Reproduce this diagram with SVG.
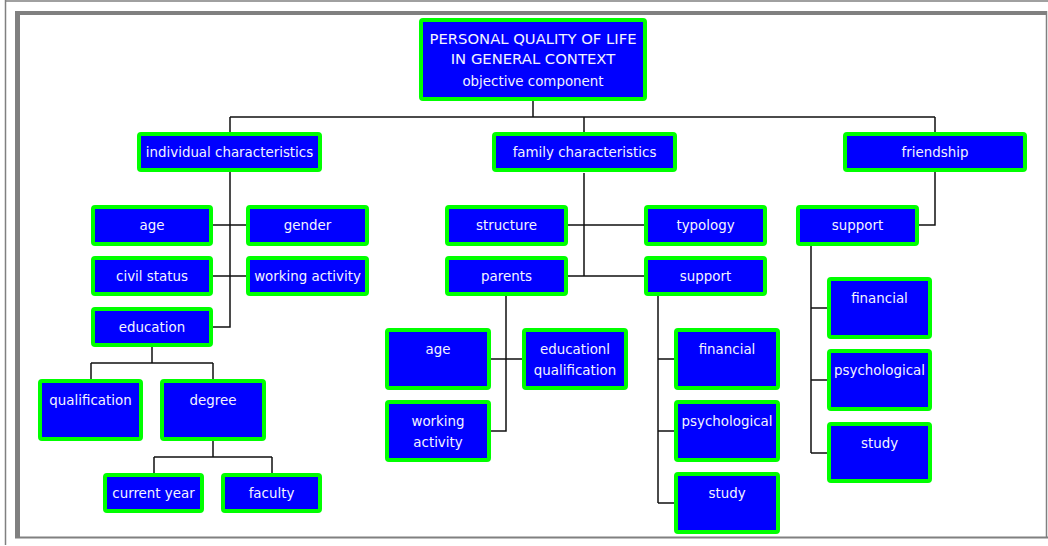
<svg xmlns="http://www.w3.org/2000/svg" width="1048" height="546" viewBox="0 0 1048 546">
<style>
.box{fill:#0000ff;stroke:#00ff00;stroke-width:4;}
.t{font-family:"DejaVu Sans","Liberation Sans",sans-serif;font-size:13.4px;fill:#f4f4ff;text-anchor:middle;}
.tc{font-size:14.8px;}
.c{fill:none;stroke:#111;stroke-width:1.5;}
.fr{fill:none;stroke:#808080;}
</style>
<rect x="0" y="0" width="1048" height="546" fill="#ffffff"/>
<g id="frame">
<line class="fr" x1="5.5" y1="0" x2="5.5" y2="545" stroke-width="1.5"/>
<line class="fr" x1="5" y1="1" x2="1048" y2="1" stroke-width="1.5"/>
<line class="fr" x1="15" y1="13" x2="1047" y2="13" stroke-width="4"/>
<line class="fr" x1="17.5" y1="11" x2="17.5" y2="538" stroke-width="5"/>
<line class="fr" x1="1046.5" y1="11" x2="1046.5" y2="538" stroke-width="1.5"/>
<line class="fr" x1="15" y1="537.5" x2="1048" y2="537.5" stroke-width="2"/>
</g>
<g id="connectors">
<path class="c" d="M533,101 V117 M230,117 H935 M230,117 V132 M584,117 V133 M935,117 V132"/>
<path class="c" d="M230,172 V327 H213 M213,225 H246 M213,276 H246"/>
<path class="c" d="M152,347 V363 M91,363 H213 M91,363 V379 M213,363 V379"/>
<path class="c" d="M213,441 V457 M154,457 H272 M154,457 V473 M272,457 V473"/>
<path class="c" d="M584,173 V276 M568,225 H644 M568,276 H644"/>
<path class="c" d="M506,296 V431 H491 M491,359 H522"/>
<path class="c" d="M658,296 V503 M658,359 H674 M658,431 H674 M658,503 H674"/>
<path class="c" d="M935,172 V225 H919 M811,246 V453 M811,308 H827 M811,380 H827 M811,453 H827"/>
</g>
<g id="root">
<rect class="box" x="421" y="20" width="224" height="79" rx="2"/>
<text class="t tc" x="533" y="44">PERSONAL QUALITY OF LIFE</text>
<text class="t tc" x="533" y="64">IN GENERAL CONTEXT</text>
<text class="t" x="533" y="86">objective component</text>
</g>
<g id="individual">
<rect class="box" x="139" y="134" width="181" height="36" rx="2"/>
<text class="t" x="229.5" y="157">individual characteristics</text>
</g>
<g id="family">
<rect class="box" x="494" y="134" width="181" height="36" rx="2"/>
<text class="t" x="584.5" y="157">family characteristics</text>
</g>
<g id="friendship">
<rect class="box" x="845" y="134" width="180" height="36" rx="2"/>
<text class="t" x="935" y="157">friendship</text>
</g>
<g id="ind-age">
<rect class="box" x="93" y="207" width="118" height="37" rx="2"/>
<text class="t" x="152" y="230">age</text>
</g>
<g id="ind-gender">
<rect class="box" x="248" y="207" width="119" height="37" rx="2"/>
<text class="t" x="307.5" y="230">gender</text>
</g>
<g id="ind-civil">
<rect class="box" x="93" y="258" width="118" height="36" rx="2"/>
<text class="t" x="152" y="281">civil status</text>
</g>
<g id="ind-working">
<rect class="box" x="248" y="258" width="119" height="36" rx="2"/>
<text class="t" x="307.5" y="281">working activity</text>
</g>
<g id="ind-education">
<rect class="box" x="93" y="309" width="118" height="36" rx="2"/>
<text class="t" x="152" y="332">education</text>
</g>
<g id="edu-qualification">
<rect class="box" x="40" y="381" width="101" height="58" rx="2"/>
<text class="t" x="90.5" y="405">qualification</text>
</g>
<g id="edu-degree">
<rect class="box" x="162" y="381" width="102" height="58" rx="2"/>
<text class="t" x="213" y="405">degree</text>
</g>
<g id="deg-current">
<rect class="box" x="105" y="475" width="97" height="36" rx="2"/>
<text class="t" x="153.5" y="498">current year</text>
</g>
<g id="deg-faculty">
<rect class="box" x="223" y="475" width="97" height="36" rx="2"/>
<text class="t" x="271.5" y="498">faculty</text>
</g>
<g id="fam-structure">
<rect class="box" x="447" y="207" width="119" height="37" rx="2"/>
<text class="t" x="506.5" y="230">structure</text>
</g>
<g id="fam-typology">
<rect class="box" x="646" y="207" width="119" height="37" rx="2"/>
<text class="t" x="705.5" y="230">typology</text>
</g>
<g id="fam-parents">
<rect class="box" x="447" y="258" width="119" height="36" rx="2"/>
<text class="t" x="506.5" y="281">parents</text>
</g>
<g id="fam-support">
<rect class="box" x="646" y="258" width="119" height="36" rx="2"/>
<text class="t" x="705.5" y="281">support</text>
</g>
<g id="par-age">
<rect class="box" x="387" y="330" width="102" height="58" rx="2"/>
<text class="t" x="438" y="354">age</text>
</g>
<g id="par-education">
<rect class="box" x="524" y="330" width="102" height="58" rx="2"/>
<text class="t" x="575" y="354">educationl</text>
<text class="t" x="575" y="375">qualification</text>
</g>
<g id="par-working">
<rect class="box" x="387" y="402" width="102" height="58" rx="2"/>
<text class="t" x="438" y="426">working</text>
<text class="t" x="438" y="447">activity</text>
</g>
<g id="sup-financial">
<rect class="box" x="676" y="330" width="102" height="58" rx="2"/>
<text class="t" x="727" y="354">financial</text>
</g>
<g id="sup-psychological">
<rect class="box" x="676" y="402" width="102" height="58" rx="2"/>
<text class="t" x="727" y="426">psychological</text>
</g>
<g id="sup-study">
<rect class="box" x="676" y="474" width="102" height="58" rx="2"/>
<text class="t" x="727" y="498">study</text>
</g>
<g id="fr-support">
<rect class="box" x="798" y="207" width="119" height="37" rx="2"/>
<text class="t" x="857.5" y="230">support</text>
</g>
<g id="fr-financial">
<rect class="box" x="829" y="279" width="101" height="58" rx="2"/>
<text class="t" x="879.5" y="303">financial</text>
</g>
<g id="fr-psychological">
<rect class="box" x="829" y="351" width="101" height="58" rx="2"/>
<text class="t" x="879.5" y="375">psychological</text>
</g>
<g id="fr-study">
<rect class="box" x="829" y="424" width="101" height="57" rx="2"/>
<text class="t" x="879.5" y="448">study</text>
</g>
</svg>
